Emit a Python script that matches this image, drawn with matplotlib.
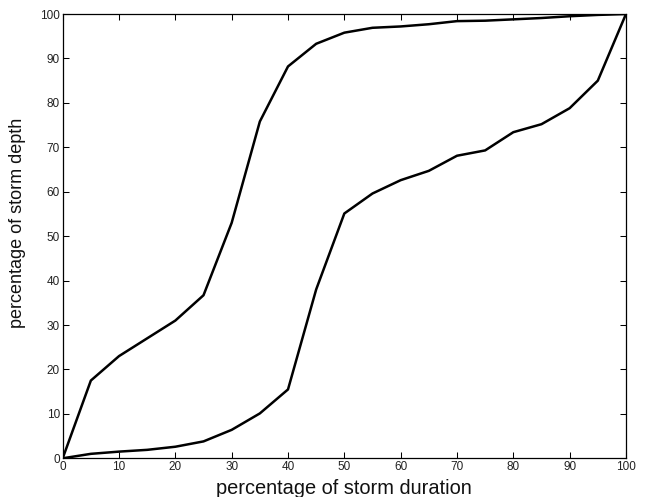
import numpy as np
import matplotlib
matplotlib.use("Agg")
import matplotlib.pyplot as plt

matplotlib.rcParams.update({'font.family': 'Liberation Sans'})

duration = [0, 5, 10, 15, 20, 25, 30, 35, 40, 45, 50,
            55, 60, 65, 70, 75, 80, 85, 90, 95, 100]
depth_upper = [0, 17.5, 23.0, 27.0, 31.0, 36.7, 53.0, 75.8, 88.2, 93.3, 95.8,
               96.9, 97.2, 97.7, 98.4, 98.5, 98.8, 99.1, 99.5, 99.8, 100]
depth_lower = [0, 1.0, 1.5, 1.9, 2.6, 3.8, 6.4, 10.1, 15.5, 38.0, 55.1,
               59.6, 62.6, 64.7, 68.1, 69.3, 73.4, 75.2, 78.8, 85.0, 100]

fig = plt.figure(figsize=(6.45, 4.97), dpi=100)
ax = fig.add_axes([0.0972, 0.0779, 0.8733, 0.8939])
ax.plot(duration, depth_upper, color='black', linewidth=1.8)
ax.plot(duration, depth_lower, color='black', linewidth=1.8)

ax.set_xlim(0, 100)
ax.set_ylim(0, 100)
ax.set_xticks(np.arange(0, 101, 10))
ax.set_yticks(np.arange(0, 101, 10))
ax.tick_params(direction='in', top=True, right=True, labelsize=8.5, length=4, width=0.75, pad=2,
               labelcolor='#222222')
for s in ax.spines.values():
    s.set_linewidth(0.9)
ax.set_xlabel("percentage of storm duration", fontsize=14.4, color='#111111')
ax.set_ylabel("percentage of storm depth", fontsize=13, color='#111111')
ax.xaxis.set_label_coords(0.5, -0.047)
ax.yaxis.set_label_coords(-0.065, 0.53)

fig.savefig("out.png", dpi=100)
